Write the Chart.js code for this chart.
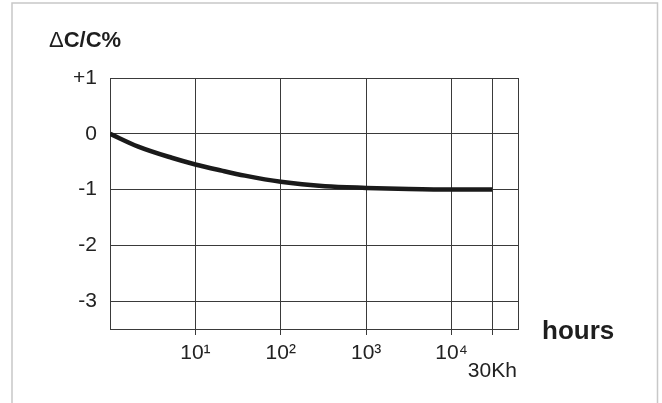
<!DOCTYPE html>
<html>
<head>
<meta charset="utf-8">
<script src="https://cdn.jsdelivr.net/npm/chart.js@4.4.1/dist/chart.umd.min.js"></script>
<style>
  html, body { margin: 0; padding: 0; background: #ffffff; }
  canvas { display: block; }
</style>
</head>
<body>
<canvas id="c" width="662" height="403"></canvas>
<script>
// ---- data ----
const hours = [1, 2.14, 5.28, 10, 20.3, 38, 100, 330, 1000, 3162, 10000, 30000];
const deltaCap = [0, -0.23, -0.43, -0.55, -0.66, -0.75, -0.86, -0.94, -0.97, -0.99, -1.0, -1.0];
const xTickValues = [10, 100, 1000, 10000, 30000];
const xTickLabels = ['10¹', '10²', '10³', '10⁴', '30Kh'];
const yTickValues = [-3, -2, -1, 0, 1];
const yTickLabels = ['-3', '-2', '-1', '0', '+1'];
const yAxisTitle = 'C/C%';
const xAxisTitle = 'hours';

const X_MIN = 1, X_MAX = 60000, Y_MIN = -3.5, Y_MAX = 1;
const FONT = '"Liberation Sans", Arial, Helvetica, sans-serif';
const GRID = '#3a3a3a';

const points = hours.map((h, i) => ({ x: h, y: deltaCap[i] }));

const decorPlugin = {
  id: 'decor',
  beforeDraw(chart) {
    const ctx = chart.ctx;
    ctx.save();
    ctx.fillStyle = '#ffffff';
    ctx.fillRect(0, 0, chart.width, chart.height);
    ctx.strokeStyle = '#c8c8c8';
    ctx.lineWidth = 1.5;
    ctx.beginPath();
    ctx.moveTo(12, chart.height);
    ctx.lineTo(12, 3);
    ctx.lineTo(657.5, 3);
    ctx.lineTo(657.5, chart.height);
    ctx.stroke();
    ctx.restore();
  },
  afterDraw(chart) {
    const ctx = chart.ctx;
    ctx.save();
    ctx.fillStyle = '#1e1e1e';
    ctx.textBaseline = 'alphabetic';
    ctx.textAlign = 'left';
    ctx.font = '22px ' + FONT;
    ctx.fillText('\u0394', 49, 47);
    const dw = ctx.measureText('\u0394').width;
    ctx.font = 'bold 22px ' + FONT;
    ctx.fillText(yAxisTitle, 49 + dw, 47);
    ctx.font = 'bold 26px ' + FONT;
    ctx.fillText(xAxisTitle, 542, 339);
    ctx.restore();
  }
};

new Chart(document.getElementById('c'), {
  type: 'line',
  data: {
    datasets: [{
      data: points,
      borderColor: '#1a1a1a',
      borderWidth: 4.5,
      pointRadius: 0,
      fill: false,
      cubicInterpolationMode: 'monotone',
      borderCapStyle: 'butt'
    }]
  },
  plugins: [decorPlugin],
  options: {
    responsive: false,
    devicePixelRatio: 1,
    animation: false,
    layout: { padding: { left: 0, top: 78, right: 144, bottom: 0 } },
    plugins: { legend: { display: false }, tooltip: { enabled: false }, title: { display: false } },
    scales: {
      x: {
        type: 'logarithmic',
        min: X_MIN,
        max: X_MAX,
        afterFit(scale) { scale.height = 74; },
        afterBuildTicks(scale) {
          scale.ticks = [X_MIN, ...xTickValues, X_MAX].map(v => ({ value: v }));
        },
        border: { display: true, color: GRID, width: 1 },
        grid: {
          color: GRID,
          lineWidth: 1,
          drawTicks: true,
          tickLength: 6,
          tickColor(ctx) {
            const v = ctx.tick ? ctx.tick.value : null;
            return xTickValues.includes(v) ? GRID : 'rgba(0,0,0,0)';
          }
        },
        ticks: {
          autoSkip: false,
          maxRotation: 0,
          minRotation: 0,
          padding: 6,
          color: '#222222',
          font(ctx) {
            const v = ctx.tick ? ctx.tick.value : null;
            if (v === 30000) return { family: FONT, size: 21, lineHeight: '20px' };
            return { family: FONT, size: 21, lineHeight: 1.2 };
          },
          callback(value) {
            const i = xTickValues.indexOf(value);
            if (i < 0) return '';
            if (value === 30000) return ['', xTickLabels[i]];
            return xTickLabels[i];
          }
        }
      },
      y: {
        type: 'linear',
        min: Y_MIN,
        max: Y_MAX,
        afterFit(scale) { scale.width = 110; },
        afterBuildTicks(scale) {
          scale.ticks = yTickValues.map(v => ({ value: v }));
        },
        border: { display: true, color: GRID, width: 1 },
        grid: { color: GRID, lineWidth: 1, drawTicks: false },
        ticks: {
          padding: 13,
          color: '#222222',
          font: { family: FONT, size: 21 },
          callback(value) {
            const i = yTickValues.indexOf(value);
            return i < 0 ? '' : yTickLabels[i];
          }
        }
      }
    }
  }
});
</script>
</body>
</html>
